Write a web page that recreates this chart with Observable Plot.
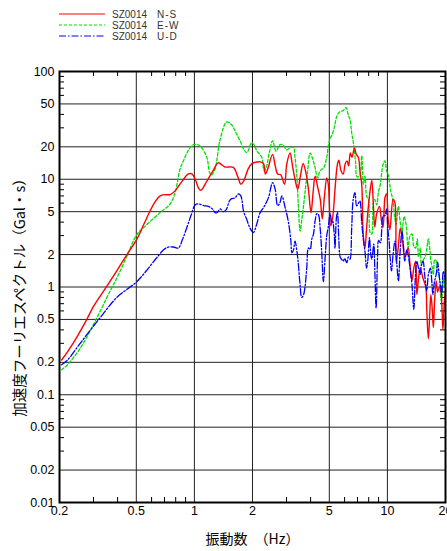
<!DOCTYPE html>
<html><head><meta charset="utf-8">
<script src="https://cdn.jsdelivr.net/npm/d3@7"></script>
<script src="https://cdn.jsdelivr.net/npm/@observablehq/plot@0.6"></script>
<style>
body{margin:0;background:#fff;width:447px;height:551px;overflow:hidden;}
#legend{height:62px;}
#legend svg,#chart svg{display:block;}
</style></head><body>
<div id="legend"></div><div id="chart"></div>
<script>
// ---- data ----
const station = "SZ0014";
const components = ["N-S", "E-W", "U-D"];
const colors = ["#ff0000", "#00e000", "#0000ff"];
const dashes = ["none", "3,2", "7,2,1.5,2"];

const freqNS = [0.205,0.22,0.25,0.277,0.30,0.352,0.40,0.447,0.503,0.55,0.59,0.63,0.664,0.70,0.748,0.794,0.85,0.93,0.97,1.01,1.05,1.08,1.16,1.25,1.33,1.44,1.59,1.68,1.74,1.80,1.90,1.98,2.05,2.19,2.28,2.33,2.40,2.54,2.62,2.70,2.80,2.93,3.01,3.13,3.22,3.32,3.43,3.55,3.66,3.80,3.90,4.02,4.12,4.22,4.35,4.49,4.60,4.72,4.85,4.94,5.09,5.22,5.35,5.50,5.60,5.75,5.90,6.05,6.18,6.30,6.42,6.55,6.75,6.90,7.07,7.22,7.36,7.50,7.65,7.80,8.0,8.3,8.45,8.6,8.8,9.1,9.3,9.5,9.72,9.9,10.1,10.3,10.7,10.95,11.1,11.4,11.65,12.0,12.3,12.8,13.1,13.4,13.7,14.0,14.2,14.5,14.8,15.3,15.8,16.0,16.3,16.6,16.8,17.1,17.3,17.6,17.9,18.2,18.6,18.9,19.2,19.4,19.7,20.0];
const valNS = [0.21,0.25,0.36,0.5,0.66,1.02,1.45,2.0,2.77,3.9,5.1,6.3,7.0,7.2,7.2,7.8,9.2,11.2,11.2,10.0,8.3,7.9,9.6,12.0,14.2,13.0,12.9,10.5,9.0,9.6,12.5,13.9,14.3,14.5,14.0,11.2,12.5,17.0,13.5,11.2,11.0,9.0,13.8,17.5,13.5,10.0,8.1,11.0,14.0,11.0,8.0,4.9,7.5,10.7,8.5,6.5,4.3,7.0,10.3,9.0,3.7,4.6,8.0,13.5,15.0,12.0,11.2,14.0,14.8,13.3,17.5,16.0,19.5,17.0,16.0,11.5,9.0,3.0,2.3,3.5,6.0,9.8,6.0,3.6,4.8,5.6,4.2,3.6,6.8,7.3,4.2,3.4,6.5,6.0,1.7,2.4,3.5,2.6,1.9,2.3,1.6,1.15,1.5,1.74,0.85,1.2,1.5,1.2,1.0,0.6,0.33,0.6,0.85,0.6,0.42,0.8,1.14,0.9,1.0,0.95,0.6,0.4,0.7,0.92];

const freqEW = [0.205,0.22,0.256,0.30,0.366,0.40,0.447,0.503,0.567,0.664,0.748,0.794,0.843,0.877,0.93,0.98,1.03,1.08,1.16,1.20,1.23,1.28,1.36,1.47,1.56,1.64,1.72,1.80,1.87,1.98,2.05,2.10,2.23,2.30,2.36,2.45,2.54,2.65,2.78,2.90,3.01,3.13,3.26,3.32,3.39,3.46,3.53,3.60,3.67,3.74,3.85,3.98,4.10,4.22,4.35,4.44,4.57,4.66,4.85,4.94,5.05,5.15,5.30,5.47,5.65,5.91,6.10,6.28,6.40,6.53,6.70,6.85,6.93,7.05,7.22,7.36,7.51,7.65,7.8,7.97,8.14,8.3,8.45,8.6,8.8,9.0,9.16,9.5,9.72,9.9,10.1,10.4,10.7,10.9,11.1,11.4,11.65,11.9,12.2,12.5,12.8,13.1,13.4,13.7,14.0,14.3,14.5,14.8,15.0,15.3,15.8,16.3,16.6,16.8,17.1,17.3,17.6,17.9,18.2,18.5,18.7,19.0,19.2,19.5,19.8,20.0];
const valEW = [0.17,0.19,0.27,0.45,0.92,1.25,1.94,3.05,3.8,4.9,5.9,7.5,12.5,14.8,18.5,20.8,21.0,20.0,15.9,11.5,11.0,12.5,23.5,34.0,32.0,27.0,23.0,19.0,17.7,21.8,20.5,18.5,16.0,12.0,13.0,18.0,22.7,18.2,21.0,20.5,18.7,19.6,19.8,16.0,11.0,5.5,3.3,4.2,5.5,7.5,11.5,17.5,15.5,12.8,10.3,11.5,12.4,12.6,16.0,20.4,24.0,25.5,30.0,38.5,42.0,43.5,46.3,39.0,36.0,27.0,20.5,14.0,10.7,10.5,11.0,16.5,9.0,10.7,7.0,6.5,3.2,3.1,6.0,6.5,5.8,7.8,8.7,13.8,14.8,12.0,11.0,7.8,6.3,4.5,3.8,5.6,4.0,3.3,4.5,3.8,2.3,3.0,3.1,2.4,2.3,2.8,1.9,2.3,1.6,1.75,2.0,2.8,2.2,1.75,1.5,1.3,1.8,1.75,1.4,1.3,1.0,0.75,0.85,1.2,1.0,1.3];

const freqUD = [0.205,0.22,0.256,0.325,0.396,0.45,0.503,0.57,0.638,0.70,0.733,0.78,0.826,0.87,0.913,0.96,1.01,1.05,1.12,1.18,1.24,1.28,1.31,1.36,1.41,1.46,1.52,1.56,1.62,1.69,1.74,1.80,1.87,1.93,2.02,2.10,2.19,2.30,2.42,2.54,2.62,2.70,2.77,2.84,2.95,3.07,3.16,3.20,3.26,3.32,3.43,3.52,3.60,3.68,3.74,3.82,3.90,3.98,4.06,4.14,4.22,4.31,4.39,4.49,4.57,4.66,4.75,4.85,4.94,5.05,5.15,5.20,5.31,5.35,5.45,5.51,5.6,5.69,5.80,5.91,6.0,6.16,6.28,6.40,6.53,6.65,6.79,6.93,7.05,7.2,7.36,7.5,7.66,7.8,7.9,8.07,8.2,8.3,8.5,8.6,8.74,8.9,9.0,9.2,9.35,9.5,9.72,9.9,10.05,10.2,10.35,10.5,10.7,10.95,11.2,11.4,11.65,11.9,12.1,12.3,12.6,12.8,13.1,13.4,13.7,13.95,14.2,14.5,14.8,15.0,15.3,15.6,16.0,16.3,16.7,17.0,17.2,17.5,17.9,18.2,18.6,18.9,19.1,19.5,20.0];
const valUD = [0.19,0.21,0.30,0.52,0.80,0.96,1.12,1.45,1.87,2.25,2.35,2.35,2.3,2.8,3.55,4.6,5.8,5.9,5.7,5.6,5.3,4.9,4.9,5.3,5.0,5.2,6.3,6.6,6.7,7.3,7.0,5.0,4.2,3.6,3.2,3.8,4.9,5.6,6.75,9.3,8.1,5.7,6.0,7.0,5.5,4.0,2.7,2.08,2.2,2.67,1.87,1.1,0.80,0.85,0.99,1.5,2.3,2.24,2.8,3.1,4.1,4.8,4.7,3.4,2.08,1.12,1.8,3.0,3.6,4.8,4.0,4.1,3.0,2.3,4.5,4.9,2.8,1.9,1.8,1.74,1.85,1.68,1.9,1.81,3.5,6.5,7.5,5.65,5.9,6.3,4.0,2.8,2.1,1.5,1.7,2.87,2.0,1.81,2.5,1.5,0.64,2.0,2.7,2.58,3.4,4.56,4.6,5.3,3.5,2.67,1.8,1.41,2.0,2.67,1.6,1.14,2.2,3.3,2.5,1.74,2.2,2.0,1.5,1.06,0.62,1.2,1.74,1.5,1.31,1.6,1.74,1.3,0.92,1.3,1.5,1.1,0.85,1.1,1.31,1.7,1.22,1.0,0.85,1.4,1.14];

const xTicks = [0.2, 0.5, 1, 2, 5, 10, 20];
const xGrid = [0.5, 1, 2, 5, 10];
const xMinor = [0.3, 0.4, 0.6, 0.7, 0.8, 0.9, 3, 4, 6, 7, 8, 9];
const yTicks = [0.01, 0.02, 0.05, 0.1, 0.2, 0.5, 1, 2, 5, 10, 20, 50, 100];
const yGrid = [0.02, 0.05, 0.1, 0.2, 0.5, 1, 2, 5, 10, 20, 50];
const yMinor = [0.03,0.04,0.06,0.07,0.08,0.09,0.3,0.4,0.6,0.7,0.8,0.9,3,4,6,7,8,9,30,40,60,70,80,90];
const xLabel = "振動数　（Hz）";
const yLabel = "加速度フーリエスペクトル（Gal・s）";

// ---- legend ----
const lg = d3.select("#legend").append("svg").attr("width", 447).attr("height", 62)
  .style("font-family", "'Liberation Sans', Arial, sans-serif").style("font-size", "10px");
components.forEach((c, i) => {
  const g = lg.append("g").attr("transform", `translate(0,${14 + i * 11})`);
  g.append("line").attr("x1", 59).attr("x2", 105).attr("y1", 0).attr("y2", 0)
    .attr("stroke", colors[i]).attr("stroke-width", 1.1)
    .attr("stroke-dasharray", dashes[i] === "none" ? null : dashes[i]);
  g.append("text").attr("x", 112).attr("dy", "0.35em").attr("fill", "#333").text(station);
  g.append("text").attr("x", 157).attr("dy", "0.35em").attr("fill", "#333").attr("letter-spacing", "1px").text(c);
});

// ---- chart ----
const W = 447, H = 489, mT = 9, mB = 49, mL = 59, mR = 2;
const innerH = H - mT - mB, innerW = W - mL - mR;
const rows = (fs, vs) => fs.map((f, i) => ({f, v: vs[i]}));
const ns = rows(freqNS, valNS), ew = rows(freqEW, valEW), ud = rows(freqUD, valUD);
const jp = "'Noto Sans CJK JP', 'Noto Sans', sans-serif";
const num = "'Liberation Sans', Arial, sans-serif";

const chart = Plot.plot({
  width: W, height: H, marginTop: mT, marginBottom: mB, marginLeft: mL, marginRight: mR,
  style: {fontFamily: num, fontSize: "12px", color: "#000", background: "#fff", overflow: "visible"},
  x: {type: "log", domain: [0.2, 20], axis: null},
  y: {type: "log", domain: [0.01, 100], axis: null},
  marks: [
    Plot.ruleX(xGrid, {x: d => d, stroke: "#222", strokeWidth: 1}),
    Plot.ruleY(yGrid, {y: d => d, stroke: "#222", strokeWidth: 1}),
    Plot.tickX(xMinor, {x: d => d, insetTop: innerH - 5, stroke: "#000"}),
    Plot.tickX(xMinor, {x: d => d, insetBottom: innerH - 5, stroke: "#000"}),
    Plot.tickY(yMinor, {y: d => d, insetRight: innerW - 5, stroke: "#000"}),
    Plot.tickY(yMinor, {y: d => d, insetLeft: innerW - 5, stroke: "#000"}),
    Plot.line(ew, {x: "f", y: "v", stroke: colors[1], strokeWidth: 1.3, strokeDasharray: dashes[1], curve: "catmull-rom"}),
    Plot.line(ns, {x: "f", y: "v", stroke: colors[0], strokeWidth: 1.4, curve: "catmull-rom"}),
    Plot.line(ud, {x: "f", y: "v", stroke: colors[2], strokeWidth: 1.3, strokeDasharray: dashes[2], curve: "catmull-rom"}),
    Plot.frame({stroke: "#000", strokeWidth: 2}),
    Plot.text(xTicks, {x: d => d, text: d => String(d), frameAnchor: "bottom", dy: 12, fontSize: 12.5, fontFamily: num, letterSpacing: "0.5px"}),
    Plot.text(yTicks, {y: d => d, text: d => String(d), frameAnchor: "left", dx: -5, textAnchor: "end", fontSize: 12.5, fontFamily: num}),
    Plot.text([yLabel], {text: d => d, frameAnchor: "left", dx: -39, dy: 7, rotate: -90, textAnchor: "middle", fontFamily: jp, fontSize: 14.5}),
    Plot.text([xLabel], {text: d => d, frameAnchor: "bottom", dy: 41, fontFamily: jp, fontSize: 14})
  ]
});
document.getElementById("chart").appendChild(chart);
</script>
</body></html>
